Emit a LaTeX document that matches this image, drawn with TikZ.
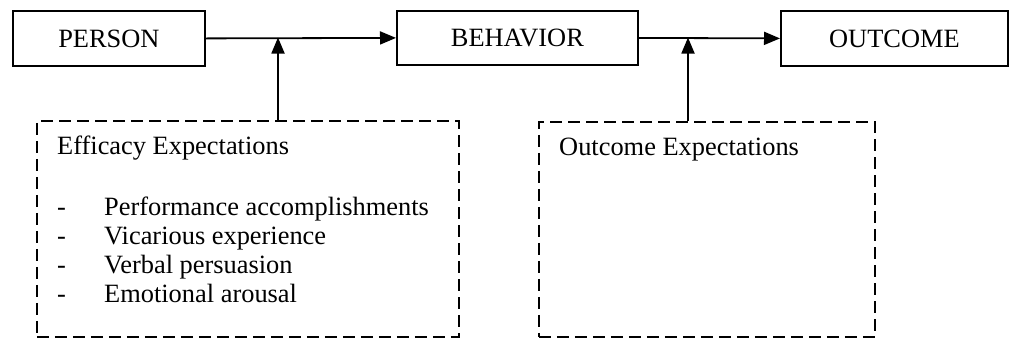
\documentclass[tikz,border=0pt]{standalone}
\usepackage{fontspec}
\setmainfont{Liberation Serif}
\usetikzlibrary{arrows.meta}
\begin{document}
\begin{tikzpicture}[x=1pt,y=-1pt,
  every node/.style={font=\fontsize{26.4pt}{29.3pt}\selectfont, inner sep=0pt},
  solidbox/.style={draw=black, line width=1.8pt, rectangle, anchor=north west},
  dashbox/.style={draw=black, line width=1.8pt, rectangle, anchor=north west, dash pattern=on 12pt off 6pt},
  conn/.style={line width=1.8pt, -{Triangle[length=16pt,width=13pt]}},
  txt/.style={anchor=base west}]
\useasboundingbox (0,0) rectangle (1010,341);
% main boxes
\node[solidbox, minimum width=192pt, minimum height=55pt] (person) at (12,10) {PERSON};
\node[solidbox, minimum width=241pt, minimum height=54pt] (behavior) at (396,10) {BEHAVIOR};
\node[solidbox, minimum width=227pt, minimum height=55pt] (outcome) at (780,10) {OUTCOME};
% dashed boxes
\node[dashbox, minimum width=422pt, minimum height=216pt] (eff) at (36,120) {};
\node[dashbox, minimum width=336pt, minimum height=215pt] (oexp) at (538,121) {};
% texts
\node[txt] (efftitle) at (57,154) {Efficacy Expectations};
\node[txt] (efflist) at (57,215) {\begin{tabular}[t]{@{}p{47pt}@{}l@{}}
- & Performance accomplishments\\
- & Vicarious experience\\
- & Verbal persuasion\\
- & Emotional arousal
\end{tabular}};
\node[txt] (oexptitle) at (559,155) {Outcome Expectations};
% junction coordinates
\coordinate (j1) at (278,37.5);
\coordinate (j2) at (688,37.5);
% connectors
\draw[conn] (person.east) -- (behavior.west);
\draw[conn] (behavior.east) -- (outcome.west);
\draw[conn] (j1 |- eff.north) -- (j1);
\draw[conn] (j2 |- oexp.north) -- (j2);
\end{tikzpicture}
\end{document}
